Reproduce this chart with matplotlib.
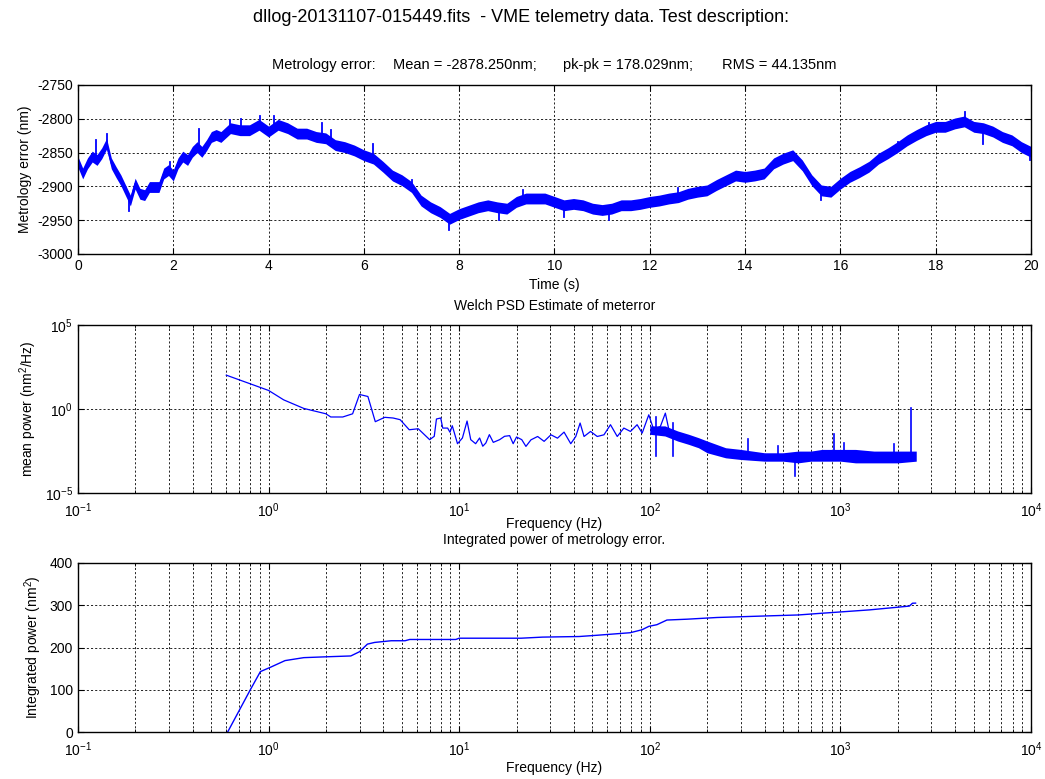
import numpy as np
import matplotlib
matplotlib.use("Agg")
import matplotlib.pyplot as plt
from matplotlib.ticker import LogLocator, NullFormatter, FixedLocator

plt.rcParams['font.family'] = ['Liberation Sans', 'DejaVu Sans']
plt.rcParams['mathtext.fontset'] = 'custom'
plt.rcParams['mathtext.rm'] = 'Liberation Sans'
plt.rcParams['mathtext.it'] = 'Liberation Sans:italic'
plt.rcParams['font.size'] = 10
plt.rcParams['axes.unicode_minus'] = False

# --- metrology error time series (band centre) ---
t_s = [0.0, 0.1, 0.2, 0.3, 0.4, 0.5, 0.6, 0.7, 0.8, 0.9, 1.0, 1.1, 1.2, 1.3, 1.4,
       1.5, 1.6, 1.7, 1.8, 1.9, 2.0, 2.1, 2.2, 2.3, 2.4, 2.5, 2.6, 2.7, 2.8, 2.9,
       3.0, 3.2, 3.4, 3.6, 3.8, 4.0, 4.2, 4.4, 4.6, 4.8, 5.0, 5.2, 5.4, 5.6, 5.8,
       6.0, 6.2, 6.4, 6.6, 6.8, 7.0, 7.2, 7.4, 7.6, 7.8, 8.0, 8.2, 8.4, 8.6, 8.8,
       9.0, 9.2, 9.4, 9.6, 9.8, 10.0, 10.2, 10.4, 10.6, 10.8, 11.0, 11.2, 11.4,
       11.6, 11.8, 12.0, 12.2, 12.4, 12.6, 12.8, 13.0, 13.2, 13.4, 13.6, 13.8,
       14.0, 14.2, 14.4, 14.6, 14.8, 15.0, 15.2, 15.4, 15.6, 15.8, 16.0, 16.2,
       16.4, 16.6, 16.8, 17.0, 17.2, 17.4, 17.6, 17.8, 18.0, 18.2, 18.4, 18.6,
       18.8, 19.0, 19.2, 19.4, 19.6, 19.8, 20.0]
met_err = [-2864, -2881, -2866, -2856, -2861, -2851, -2837, -2866, -2879, -2891,
           -2906, -2921, -2896, -2911, -2913, -2901, -2901, -2901, -2881, -2876,
           -2884, -2866, -2856, -2861, -2849, -2842, -2849, -2839, -2827, -2824,
           -2827, -2814, -2817, -2817, -2809, -2819, -2809, -2814, -2822, -2822,
           -2827, -2829, -2839, -2842, -2847, -2854, -2859, -2871, -2884, -2891,
           -2901, -2921, -2931, -2938, -2948, -2941, -2936, -2931, -2928, -2931,
           -2933, -2923, -2918, -2918, -2918, -2923, -2928, -2926, -2928, -2933,
           -2935, -2933, -2928, -2928, -2926, -2923, -2921, -2918, -2916, -2911,
           -2908, -2906, -2898, -2891, -2884, -2886, -2884, -2881, -2866, -2859,
           -2854, -2869, -2891, -2906, -2908, -2896, -2886, -2879, -2871, -2859,
           -2851, -2842, -2832, -2824, -2817, -2812, -2812, -2807, -2804, -2812,
           -2814, -2819, -2827, -2832, -2842, -2849]
band_half = 8  # half thickness of the noise band (nm)
# isolated noise excursions seen above / below the band
spike_t = [0.01, 0.37, 0.61, 1.07, 1.94, 2.54, 3.19, 3.43, 3.82, 4.11, 5.12, 5.3,
           6.19, 7.01, 7.79, 8.84, 9.34, 10.2, 11.14, 12.6, 14.34, 15.6, 17.21,
           17.85, 18.62, 19.0, 19.97]
spike_v = [-2844, -2831, -2822, -2937, -2864, -2815, -2802, -2800, -2796, -2796,
           -2807, -2817, -2837, -2891, -2965, -2950, -2906, -2945, -2950, -2903,
           -2877, -2920, -2834, -2807, -2790, -2837, -2861]

# --- Welch PSD, low-frequency part (exponent of 10) ---
psd_f = [0.60, 1.0, 1.2, 1.53, 2.0, 2.12, 2.45, 2.76, 3.0, 3.32, 3.63, 4.07, 4.5,
         4.9, 5.47, 6.1, 7.0, 7.4, 7.6, 8.0, 8.2, 8.7, 8.95, 9.2, 9.8, 10.4, 11.0,
         11.5, 12.2, 12.8, 13.3, 13.8, 14.4, 15.1, 16.3, 17.3, 18.4, 19.2, 20.0,
         21.3, 22.4, 23.8, 25.8, 27.9, 30.3, 32.8, 35.5, 38.5, 40.9, 43.1, 45.2,
         48.9, 53.0, 57.5, 62.2, 67.5, 73.1, 79.2, 85.8, 91.2, 98.8, 104.9,
         113.7, 120.7, 128.2]
psd_exp = [2.02, 1.11, 0.55, 0.04, -0.28, -0.47, -0.47, -0.28, 0.87, 0.75, -0.75,
           -0.49, -0.53, -0.63, -1.23, -1.17, -1.82, -1.62, -0.59, -0.53, -1.13,
           -1.13, -1.38, -0.99, -2.06, -1.72, -0.71, -1.82, -2.06, -1.72, -2.21,
           -2.02, -1.52, -1.98, -1.82, -1.62, -1.58, -2.06, -1.66, -1.82, -2.22,
           -1.83, -1.63, -1.92, -1.53, -1.73, -1.37, -2.06, -1.63, -0.83, -1.63,
           -1.33, -1.63, -1.53, -0.93, -1.63, -1.13, -1.33, -0.93, -1.43, -0.34,
           -1.23, -1.03, -0.24, -1.63]

# high-frequency noise band of the PSD (exponents)
band_f = [100, 120, 140, 160, 180, 200, 250, 300, 400, 500, 600, 700, 800,
          1000, 1200, 1500, 2000, 2500]
band_lo = [-1.5, -1.6, -1.9, -2.1, -2.3, -2.6, -2.9, -3.0, -3.1, -3.1, -3.2,
           -3.1, -3.1, -3.1, -3.2, -3.2, -3.2, -3.1]
band_hi = [-1.0, -1.0, -1.3, -1.5, -1.7, -1.9, -2.3, -2.4, -2.6, -2.6, -2.5,
           -2.5, -2.4, -2.4, -2.4, -2.5, -2.5, -2.5]
spike_f = [108, 133, 329, 470, 577, 922, 1050, 1900, 2350]
spike_exp = [-0.5, -0.8, -1.8, -2.2, -4.0, -1.5, -2.0, -2.1, 0.05]

# --- integrated power ---
ip_f = [0.61, 0.80, 0.906, 1.02, 1.22, 1.53, 2.0, 2.7, 3.0, 3.3, 3.6, 4.4, 5.2, 5.5,
        9.6, 10.0, 21.1, 27.4, 42.6, 53, 64.8, 79, 91, 98.8, 109, 123, 157, 225,
        401, 602, 795, 990, 1420, 1960, 2300, 2390, 2480]
ip_val = [0, 99, 143, 153, 169, 176, 178, 180, 190, 208, 212, 216, 216, 219,
          219, 222, 222, 224.6, 226, 229, 232, 235, 242, 250, 254, 265, 267, 271,
          274.6, 277, 281, 284, 289, 295, 298, 304.8, 305]

blue = (0, 0, 1)
grid_kw = dict(color='black', linestyle=(0, (2.5, 2.5)), linewidth=0.6)

fig = plt.figure(figsize=(10.45, 7.79), dpi=100)
ax1 = fig.add_axes([0.0746, 0.674, 0.912, 0.217])
ax2 = fig.add_axes([0.0746, 0.367, 0.912, 0.2157])
ax3 = fig.add_axes([0.0746, 0.0603, 0.912, 0.217])

fig.text(253 / 1045, 0.978, 'dllog-20131107-015449.fits  - VME telemetry data. Test description:',
         ha='left', va='center', fontsize=13)

# subtitle pieces, spaced like the original
sub_parts = ['Metrology error:', 'Mean = -2878.250nm;', 'pk-pk = 178.029nm;', 'RMS = 44.135nm']
sub_x = [272, 393, 563, 722]
for s, xp in zip(sub_parts, sub_x):
    fig.text(xp / 1045, 1 - 65 / 779, s, ha='left', va='center', fontsize=10.5)

# top panel
t = np.array(t_s)
m = np.array(met_err)
ax1.fill_between(t, m - band_half, m + band_half, color=blue, linewidth=0)
ax1.plot(t, m, color=blue, linewidth=1.0)
for ts, v in zip(spike_t, spike_v):
    c = np.interp(ts, t, m)
    ax1.plot([ts, ts], [c, v], color=blue, linewidth=1.3)
ax1.set_xlim(0, 20)
ax1.set_ylim(-3000, -2750)
ax1.set_xticks(range(0, 21, 2))
ax1.set_yticks(range(-3000, -2749, 50))
ax1.set_xlabel('Time (s)', labelpad=3.5)
ax1.set_ylabel('Metrology error (nm)')
ax1.grid(True, **grid_kw)

# middle panel
ax2.plot(psd_f, 10.0 ** np.array(psd_exp), color=blue, linewidth=0.9)
ax2.fill_between(band_f, 10.0 ** np.array(band_lo), 10.0 ** np.array(band_hi),
                 color=blue, linewidth=0)
for f, e in zip(spike_f, spike_exp):
    ax2.plot([f, f], [10.0 ** -2.8, 10.0 ** e], color=blue, linewidth=1.2)
ax2.set_xscale('log')
ax2.set_yscale('log')
ax2.set_xlim(0.1, 1e4)
ax2.set_ylim(1e-5, 1e5)
ax2.yaxis.set_major_locator(FixedLocator([1e-5, 1e0, 1e5]))
ax2.yaxis.set_minor_locator(FixedLocator([]))
ax2.set_xlabel('Frequency (Hz)', labelpad=-2)
ax2.set_ylabel('mean power (nm$^2$/Hz)')
ax2.set_title('Welch PSD Estimate of meterror', fontsize=10, pad=10.5)

# bottom panel
ax3.plot(ip_f, ip_val, color=blue, linewidth=1)
ax3.set_xscale('log')
ax3.set_xlim(0.1, 1e4)
ax3.set_ylim(0, 400)
ax3.set_yticks(range(0, 401, 100))
ax3.set_xlabel('Frequency (Hz)', labelpad=1.5)
ax3.set_ylabel('Integrated power (nm$^2$)')
ax3.set_title('Integrated power of metrology error.', fontsize=10, pad=14)

for ax in (ax2, ax3):
    ax.xaxis.set_major_locator(LogLocator(base=10, numticks=10))
    ax.xaxis.set_minor_locator(LogLocator(base=10, subs=range(2, 10), numticks=20))
    ax.xaxis.set_minor_formatter(NullFormatter())
    ax.grid(True, which='major', **grid_kw)
    ax.grid(True, which='minor', axis='x', **grid_kw)
    ax.tick_params(axis='x', which='major', pad=6)

for ax in (ax1, ax2, ax3):
    ax.tick_params(which='both', direction='in', top=True, right=True, labelsize=10)
    ax.tick_params(which='major', length=4)
    ax.tick_params(which='minor', length=2)
    for s in ax.spines.values():
        s.set_linewidth(1.0)
    ax.set_axisbelow(True)

fig.savefig('out.png', dpi=100)
